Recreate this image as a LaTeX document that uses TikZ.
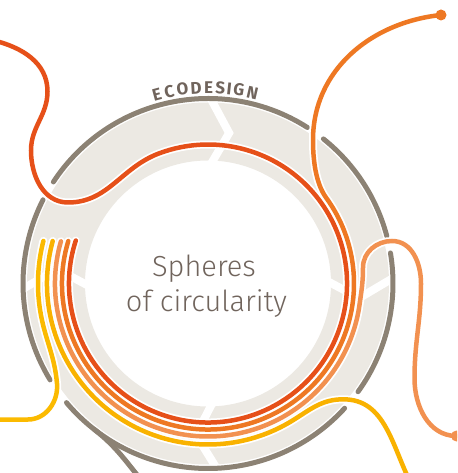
\documentclass[tikz,border=0pt]{standalone}
\usepackage{fontspec}
\setmainfont{Fira Sans}
\newfontfamily\lightfont{Fira Sans Light}
\usetikzlibrary{calc}

\definecolor{ringgray}{RGB}{140,130,116}
\definecolor{ringfill}{RGB}{236,233,227}
\definecolor{textgray}{RGB}{112,100,92}
\definecolor{redline}{RGB}{230,80,25}
\definecolor{orangeline}{RGB}{238,120,35}
\definecolor{salmonline}{RGB}{242,145,80}
\definecolor{amberline}{RGB}{249,178,0}
\definecolor{yellowline}{RGB}{251,186,0}

\begin{document}
\begin{tikzpicture}[x=1pt, y=1pt,
  strand/.style={line width=4.5pt, line cap=round, preaction={draw=white, line width=8pt, line cap=round}},
  rim/.style={ringgray, line width=5pt, line cap=round},
  chevron/.style={white, line width=8pt, line join=miter}]
\useasboundingbox (-208,-189.5) rectangle (249,283.5);
\clip (-208,-189.5) rectangle (249,283.5);

% Draw light ring
\fill[ringfill, even odd rule] (0,0) circle (181) (0,0) circle (123);
% White chevrons
\foreach \a in {89, 1.5, -87.5, 181.5}
  \draw[chevron] (\a:184) -- (\a-7:152) -- (\a:118);

% Draw outer rim with gaps
\foreach \s/\e in {57.5/146.7, 153.1/211.4, 220.1/317.6, -35.8/9.5, 14.8/51.4}
  \draw[rim] (\s:185) arc[start angle=\s, end angle=\e, radius=185];
\draw[rim] (232:185) to[out=-38, in=129] (-68,-195);

% Coloured strands
\draw[strand, redline] (162:139) arc[start angle=162, end angle=471, radius=139]
  to[out=201, in=0] (-140,81) to[out=180, in=-90] (-177,133)
  to[out=90, in=-90] (-160.5,192) to[out=90, in=-14] (-214,243);
\draw[strand, orangeline] (163.1:146) arc[start angle=163.1, end angle=396, radius=146]
  to[out=126, in=-90, looseness=0.8] (105,143.5) to[out=90, in=186] (233,268.5);
\fill[orangeline] (233,268.5) circle (5.5);
\draw[strand, salmonline] (164:153) arc[start angle=164, end angle=352, radius=153]
  to[out=82, in=-90] (155,16) to[out=90, in=180] (184,42.5) to[out=0, in=90] (213,0)
  to[out=-90, in=90] (206.5,-95) to[out=-90, in=180] (248.5,-152.5);
\fill[salmonline] (248.5,-152.5) circle (5.5);
\draw[strand, amberline] (164.7:161) arc[start angle=164.7, end angle=302, radius=161]
  to[out=32, in=180] (135.3,-115.8) to[out=0, in=117] (203,-200);
\draw[strand, yellowline] (165.5:170) arc[start angle=165.5, end angle=189, radius=170]
  to[out=-81, in=95] (-151,-100) to[out=-85, in=0] (-180,-136) -- (-215,-136);

% Labels
\foreach \ch/\ang [count=\i] in {E/105.1, C/101.4, O/97.5, D/93.5, E/89.8, S/86.4, I/83.8, G/80.9, N/76.9}
  \node[font=\bfseries\fontsize{17}{17}\selectfont, text=textgray, inner sep=0pt, rotate=\ang-90] (eco\i) at (\ang:196) {\ch};
\node[font=\lightfont\fontsize{29}{35}\selectfont, text=textgray, anchor=base] (sph) at (-4,6.5) {Spheres};
\node[font=\lightfont\fontsize{29}{35}\selectfont, text=textgray, anchor=base] (circ) at (-1.5,-28.5) {of circularity};
\end{tikzpicture}
\end{document}
